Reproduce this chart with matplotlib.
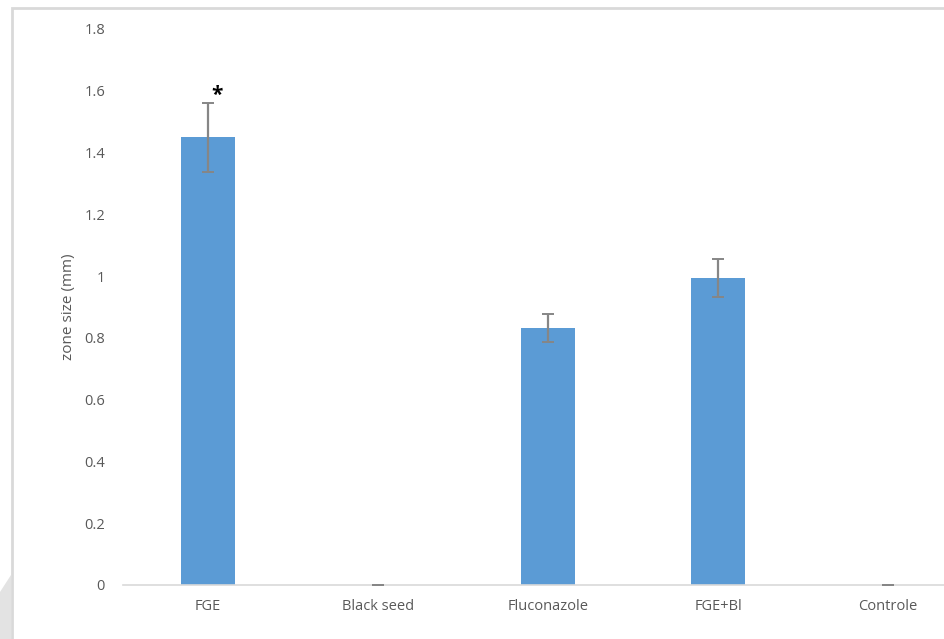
import numpy as np
import matplotlib.pyplot as plt
from matplotlib.patches import Rectangle, Polygon

plt.rcParams['font.family'] = ['Open Sans', 'DejaVu Sans']

groups = ['FGE', 'Black seed', 'Fluconazole', 'FGE+Bl', 'Controle']
zone = [1.45, 0, 0.832, 0.994, 0]
err = [0.112, 0, 0.045, 0.061, 0]
yticks = [0, 0.2, 0.4, 0.6, 0.8, 1, 1.2, 1.4, 1.6, 1.8]

W, H = 944, 639
fig = plt.figure(figsize=(W / 100, H / 100), dpi=100)
# plot area runs past the right edge of the picture, like the crop in the original
ax = fig.add_axes([123 / W, 1 - 585 / H, 850 / W, (585 - 29) / H])

x = np.arange(len(groups))
ax.bar(x, zone, width=0.32, color='#5b9bd5', zorder=2)
ax.errorbar(x, zone, yerr=err, fmt='none', ecolor='#868686', elinewidth=1.6,
            capsize=4, capthick=1.4, zorder=3)
ax.text(x[0] + 0.053, zone[0] + err[0] - 0.012, '*', fontsize=15, ha='center',
        va='bottom', color='black', fontweight='bold')

ax.set_xlim(-0.5, 4.5)
ax.set_ylim(0, 1.8)
ax.set_xticks(x)
ax.set_xticklabels(groups)
ax.set_yticks(yticks)
ax.set_yticklabels([f'{v:g}' for v in yticks])
ax.tick_params(axis='both', length=0, labelsize=10.5, labelcolor='#595959')
ax.tick_params(axis='y', pad=13)
ax.tick_params(axis='x', pad=10)
for s in ['left', 'right', 'top']:
    ax.spines[s].set_visible(False)
ax.spines['bottom'].set_color('#d9d9d9')
ax.spines['bottom'].set_linewidth(1.2)
ax.set_ylabel('zone size (mm)', fontsize=11, color='#595959', labelpad=6)

# chart border and the grey corner in the lower left
fig.patches.append(Rectangle((12 / W, -0.1), 1.2, 1 - 8 / H + 0.1, transform=fig.transFigure,
                             fill=False, edgecolor='#d9d9d9', linewidth=2))
fig.patches.append(Polygon([(0, 0), (0, 1 - 592 / H), (11 / W, 1 - 575 / H), (11 / W, 0)],
                           closed=True, transform=fig.transFigure,
                           facecolor='#e3e3e3', edgecolor='none'))

fig.savefig('out.png', dpi=100)
